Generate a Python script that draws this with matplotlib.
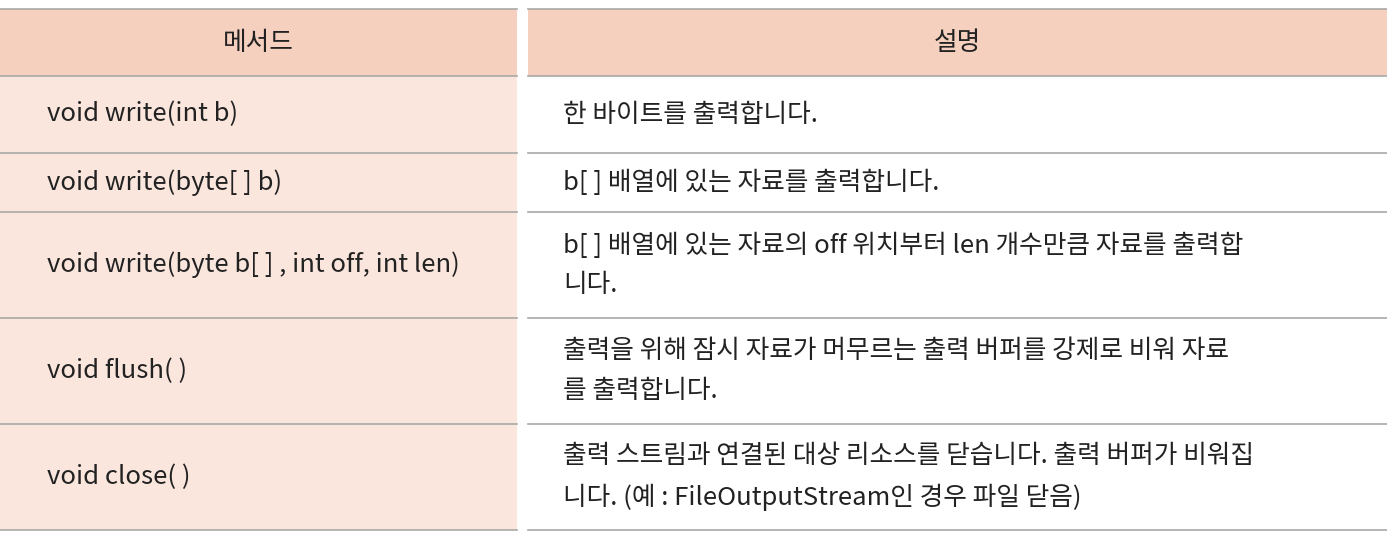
import matplotlib
matplotlib.use("Agg")
import matplotlib.pyplot as plt
from matplotlib.patches import Rectangle

plt.rcParams["font.family"] = ["Noto Sans CJK KR", "DejaVu Sans"]

HEADERS = ["메서드", "설명"]
METHODS = [
    "void write(int b)",
    "void write(byte[ ] b)",
    "void write(byte b[ ] , int off, int len)",
    "void flush( )",
    "void close( )",
]
DESCRIPTIONS = [
    "한 바이트를 출력합니다.",
    "b[ ] 배열에 있는 자료를 출력합니다.",
    "b[ ] 배열에 있는 자료의 off 위치부터 len 개수만큼 자료를 출력합\n니다.",
    "출력을 위해 잠시 자료가 머무르는 출력 버퍼를 강제로 비워 자료\n를 출력합니다.",
    "출력 스트림과 연결된 대상 리소스를 닫습니다. 출력 버퍼가 비워집\n니다. (예 : FileOutputStream인 경우 파일 닫음)",
]
ROW_EDGES = [9, 76, 153, 212, 318, 424, 530]

HEAD_COLOR = "#F6D0BF"
LEFT_COLOR = "#FAE6DD"
LINE_COLOR = "#A8A8A8"
TEXT_COLOR = "#222222"

W, H = 1387, 537
fig = plt.figure(figsize=(W / 100, H / 100), dpi=100)
ax = fig.add_axes([0, 0, 1, 1])
ax.set_xlim(0, W)
ax.set_ylim(H, 0)
ax.axis("off")

cols = [(0, 517), (528, W)]
FS = 18.5

# header
for (x0, x1), txt in zip(cols, HEADERS):
    ax.add_patch(Rectangle((x0, ROW_EDGES[0]), x1 - x0, ROW_EDGES[1] - ROW_EDGES[0],
                           color=HEAD_COLOR, lw=0))
    ax.text((x0 + x1) / 2, (ROW_EDGES[0] + ROW_EDGES[1]) / 2, txt,
            ha="center", va="center", fontsize=FS, fontweight="medium", color=TEXT_COLOR)

# body
x0, x1 = cols[0]
ax.add_patch(Rectangle((x0, ROW_EDGES[1]), x1 - x0, ROW_EDGES[-1] - ROW_EDGES[1],
                       color=LEFT_COLOR, lw=0))
for i, (m, d) in enumerate(zip(METHODS, DESCRIPTIONS)):
    yc = (ROW_EDGES[i + 1] + ROW_EDGES[i + 2]) / 2
    ax.text(47, yc, m, ha="left", va="center", fontsize=FS, color=TEXT_COLOR)
    ax.text(563, yc, d, ha="left", va="center", fontsize=FS, color=TEXT_COLOR,
            linespacing=1.65)

for y in ROW_EDGES:
    for (a, b) in cols:
        ax.plot([a, b], [y, y], color=LINE_COLOR, lw=1.2)

fig.savefig("out.png", dpi=100)
